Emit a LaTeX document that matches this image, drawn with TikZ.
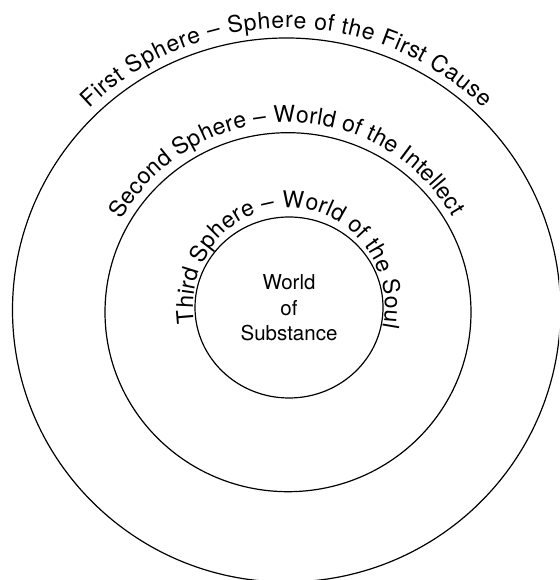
\documentclass[tikz,border=0pt]{standalone}
\usepackage{fontspec}
\setmainfont{TeX Gyre Heros}
\usetikzlibrary{decorations.text}
\newcommand\lblfont{\fontsize{20.5}{25.5}\selectfont}
\newcommand\arcfont{\fontsize{23}{27}\selectfont}
\tikzset{
  ring/.style={draw=black, line width=1.2pt},
  arclabel/.style={font=\arcfont, decorate, decoration={text effects along path, text={#1},
     text effects/.cd, text along path, fit text to path}}
}
\begin{document}
\begin{tikzpicture}[x=1pt,y=1pt,font=\lblfont]
\useasboundingbox (0,0) rectangle (559,580);
\clip (0,0) rectangle (559,580);
\fill[white] (0,0) rectangle (559,580);
\coordinate (co) at (286.5,270);
\coordinate (cm) at (288,267.8);
\coordinate (ci) at (289,272.5);
% circles
\draw[ring] (co) ellipse [x radius=274, y radius=272];
\draw[ring] (cm) ellipse [x radius=183, y radius=179.5];
\draw[ring] (ci) ellipse [x radius=94, y radius=90.5];
% arc labels
\path[arclabel={First Sphere – Sphere of the First Cause}]
  ([shift={(134.3:282)}]co) arc[start angle=134.3, end angle=45.6, radius=282];
\path[arclabel={Second Sphere – World of the Intellect}]
  ([shift={(151:190)}]cm) arc[start angle=151, end angle=30, radius=190];
\path[arclabel={Third Sphere – World of the Soul}]
  ([shift={(189:96 and 100)}]ci) arc[start angle=189, end angle=-11.4, x radius=96, y radius=100];
% centre label
\node[align=center, inner sep=0pt] (subst) at (289,272) {World\\of\\Substance};
\end{tikzpicture}
\end{document}
